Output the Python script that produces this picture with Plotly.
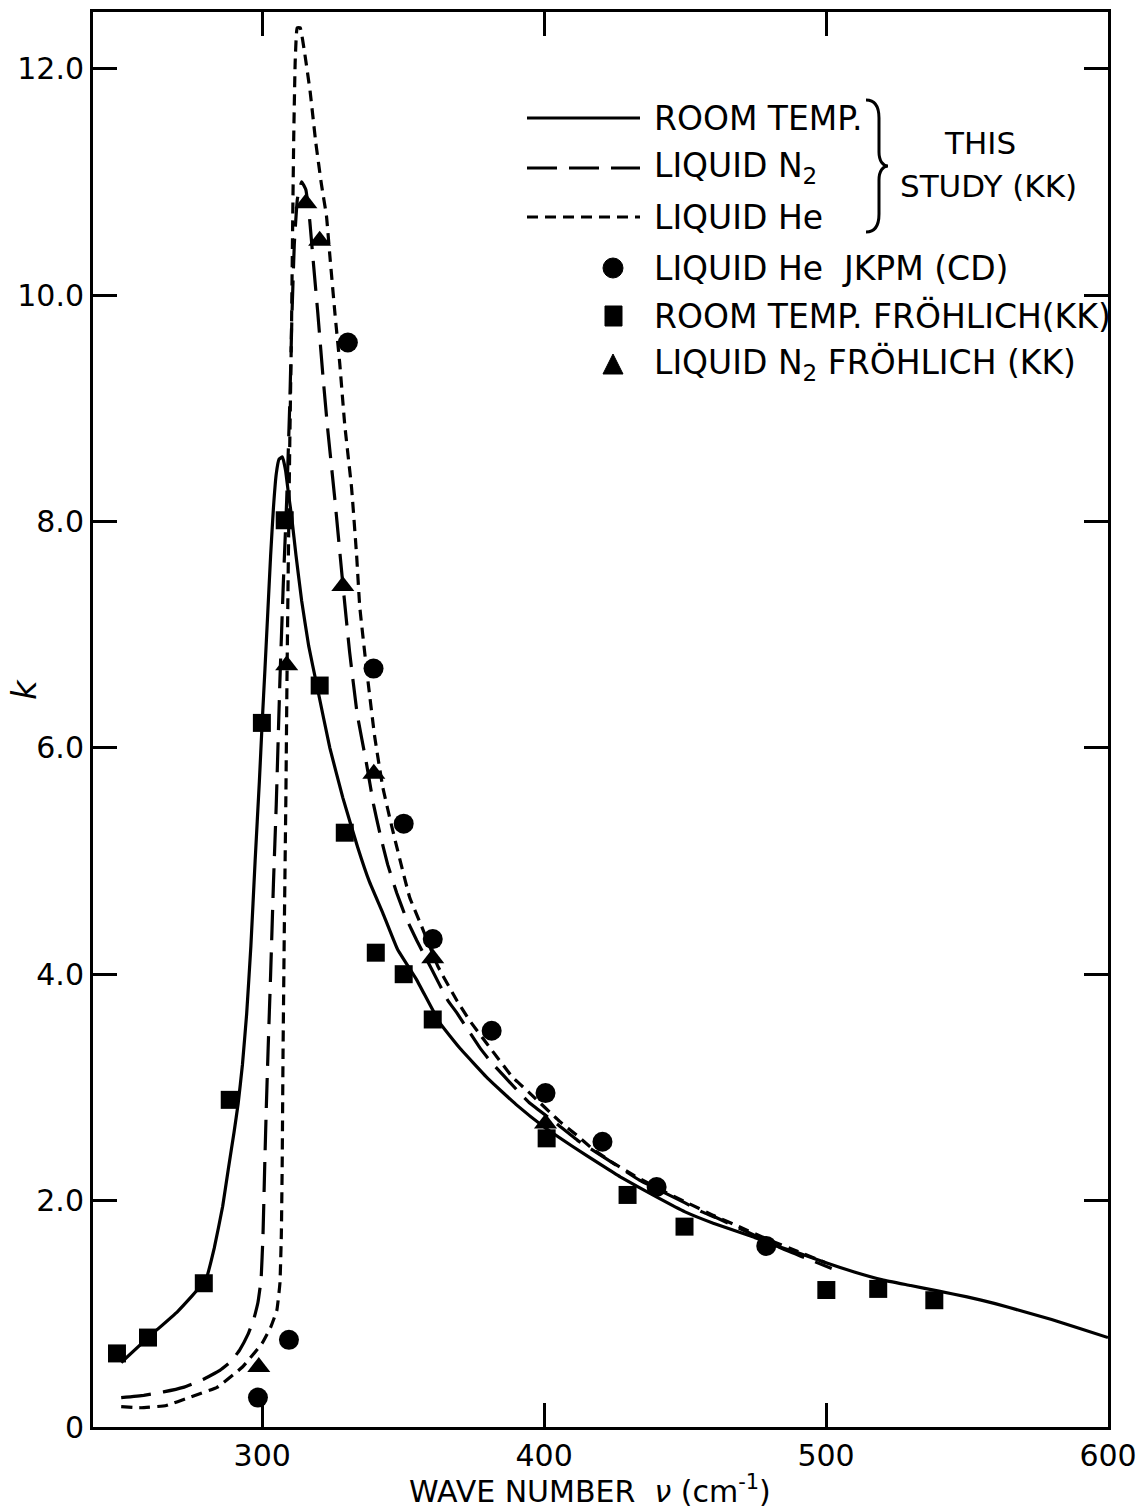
import plotly.graph_objects as go

# ---- curves: absorption index k versus wave number (cm^-1) ----
rt_nu = [250, 260, 270, 280, 283, 286, 288, 290, 291.5, 293, 294.5, 296, 297.5, 299, 300,
         301, 302, 303, 304, 305, 306, 307.2, 308.3, 309.3, 310.5, 312, 314, 316.5, 319.4,
         324, 328.6, 333.9, 338, 342.8, 348, 354.8, 363, 370, 380, 390, 400, 410, 420, 427,
         440, 450, 460, 474, 480, 490, 500, 510, 520, 530, 540, 550, 560, 570, 580, 590, 600]
rt_k = [0.57, 0.80, 1.02, 1.30, 1.58, 1.95, 2.28, 2.60, 2.86, 3.20, 3.65, 4.25, 5.00, 5.70,
        6.22, 6.70, 7.20, 7.70, 8.12, 8.42, 8.55, 8.57, 8.45, 8.25, 8.03, 7.70, 7.30, 6.90,
        6.55, 6.00, 5.56, 5.12, 4.82, 4.54, 4.22, 3.95, 3.57, 3.35, 3.08, 2.85, 2.65, 2.48,
        2.32, 2.21, 2.03, 1.90, 1.80, 1.68, 1.62, 1.54, 1.45, 1.37, 1.30, 1.25, 1.20, 1.15,
        1.09, 1.02, 0.95, 0.87, 0.79]

n2_nu = [250, 258, 265, 272, 279, 285, 289, 292, 295, 297, 298.5, 299.6, 300.3, 300.9,
         301.5, 302.1, 303, 304, 305, 306.3, 307.5, 308.7, 309.8, 310.6, 311.4, 312.5, 314,
         315.5, 316.9, 318, 319.7, 321.5, 323.3, 325.8, 328.6, 331, 333.7, 337, 339.5, 341.7,
         344.5, 347.7, 351, 354.8, 360, 365.8, 369, 377.5, 381, 391, 395, 404.4, 412, 421.4,
         433.8, 441, 450, 456, 461, 474, 484, 492, 502]
n2_k = [0.26, 0.28, 0.31, 0.35, 0.42, 0.50, 0.58, 0.68, 0.82, 0.95, 1.10, 1.30, 1.70, 2.30,
        2.85, 3.33, 4.00, 4.80, 5.50, 6.60, 7.45, 8.19, 9.05, 9.85, 10.45, 10.85, 11.00,
        10.93, 10.65, 10.33, 9.85, 9.30, 8.80, 8.19, 7.45, 6.85, 6.30, 5.86, 5.50, 5.25,
        4.97, 4.72, 4.50, 4.30, 4.05, 3.77, 3.66, 3.34, 3.23, 2.96, 2.86, 2.68, 2.53, 2.38,
        2.18, 2.09, 1.98, 1.90, 1.85, 1.70, 1.58, 1.50, 1.40]

he_nu = [250, 257, 266, 274, 284, 293, 300, 303, 305.2, 306.3, 306.8, 307.1, 307.4, 307.9,
         308.4, 308.8, 309.2, 309.8, 310.4, 310.8, 311.2, 311.7, 312.4, 313.5, 315, 317, 319,
         321, 322.8, 324, 325.8, 327.5, 329.3, 331.7, 333.5, 334.6, 337, 339.9, 342.8, 346.3,
         352.3, 356.6, 362.3, 369, 373.6, 379.6, 388.8, 394.9, 405.5, 411.5, 417, 424, 432,
         441, 450, 460, 470, 480, 490, 500]
he_k = [0.18, 0.17, 0.19, 0.26, 0.35, 0.53, 0.74, 0.88, 1.03, 1.27, 1.70, 2.30, 3.30, 4.50,
        5.54, 6.60, 7.50, 8.70, 9.70, 10.60, 11.40, 12.05, 12.36, 12.36, 12.15, 11.80, 11.35,
        10.98, 10.70, 10.35, 9.84, 9.40, 8.85, 8.30, 7.70, 7.25, 6.70, 6.10, 5.65, 5.27,
        4.68, 4.42, 4.07, 3.77, 3.59, 3.39, 3.09, 2.95, 2.70, 2.58, 2.46, 2.34, 2.22,
        2.10, 1.99, 1.87, 1.76, 1.65, 1.55, 1.45]

# ---- measured points ----
jkpm_nu = [298.5, 309.5, 330.4, 339.5, 350.2, 360.5, 381.4, 400.5, 420.7, 439.9, 478.8]
jkpm_k = [0.26, 0.77, 9.58, 6.70, 5.33, 4.31, 3.50, 2.95, 2.52, 2.12, 1.60]

froh_rt_nu = [248.5, 259.5, 279.3, 288.5, 299.9, 308.0, 320.4, 329.3, 340.3, 350.2, 360.5,
              400.9, 429.6, 449.8, 500.1, 518.5, 538.4]
froh_rt_k = [0.65, 0.79, 1.27, 2.89, 6.22, 8.01, 6.55, 5.25, 4.19, 4.00, 3.60,
             2.55, 2.05, 1.77, 1.21, 1.22, 1.12]

froh_n2_nu = [298.8, 308.7, 315.5, 320.4, 328.6, 339.6, 360.5, 400.5]
froh_n2_k = [0.53, 6.73, 10.81, 10.48, 7.43, 5.77, 4.14, 2.68]

x_ticks = [300, 400, 500, 600]
x_ticktext = ["300", "400", "500", "600"]
y_ticks = [0, 2, 4, 6, 8, 10, 12]
y_ticktext = ["0", "2.0", "4.0", "6.0", "8.0", "10.0", "12.0"]

FONT = "DejaVu Sans, Liberation Sans, Arial, sans-serif"
INK = "black"
LONG_DASH = "30px,12px"
SHORT_DASH = "11px,7px"
LW = 3.2
LEG_SIZE = 33

fig = go.Figure()
fig.add_trace(go.Scatter(x=rt_nu, y=rt_k, mode="lines",
                         line=dict(color=INK, width=LW, shape="spline", smoothing=0.3)))
fig.add_trace(go.Scatter(x=n2_nu, y=n2_k, mode="lines",
                         line=dict(color=INK, width=LW, dash=LONG_DASH, shape="spline", smoothing=0.3)))
fig.add_trace(go.Scatter(x=he_nu, y=he_k, mode="lines",
                         line=dict(color=INK, width=LW, dash=SHORT_DASH, shape="spline", smoothing=0.3)))
fig.add_trace(go.Scatter(x=jkpm_nu, y=jkpm_k, mode="markers",
                         marker=dict(symbol="circle", size=20, color=INK)))
fig.add_trace(go.Scatter(x=froh_rt_nu, y=froh_rt_k, mode="markers",
                         marker=dict(symbol="square", size=18, color=INK)))
fig.add_trace(go.Scatter(x=froh_n2_nu, y=froh_n2_k, mode="markers",
                         marker=dict(symbol="triangle-up", size=20, color=INK)))

# plot frame in pixels
L, R, T, B = 93, 1108, 12, 1427
W, H = 1144, 1511


def px(x):
    return (x - L) / (R - L)


def py(y):
    return (B - y) / (B - T)


shapes = []
annotations = []

# legend key lines
for row_y, dash in [(118, "solid"), (168, LONG_DASH), (217, SHORT_DASH)]:
    shapes.append(dict(type="line", xref="paper", yref="paper",
                       x0=px(527), x1=px(640), y0=py(row_y), y1=py(row_y),
                       line=dict(color=INK, width=LW, dash=dash)))

# legend key markers
shapes.append(dict(type="circle", xref="paper", yref="paper",
                   x0=px(603), x1=px(623), y0=py(278), y1=py(258),
                   fillcolor=INK, line=dict(color=INK, width=1)))
shapes.append(dict(type="rect", xref="paper", yref="paper",
                   x0=px(605), x1=px(622), y0=py(326), y1=py(306),
                   fillcolor=INK, line=dict(color=INK, width=1)))
tri = "M {:.5f} {:.5f} L {:.5f} {:.5f} L {:.5f} {:.5f} Z".format(
    px(603), py(374), px(623), py(374), px(613), py(354))
shapes.append(dict(type="path", xref="paper", yref="paper", path=tri,
                   fillcolor=INK, line=dict(color=INK, width=1)))

# brace grouping the three curves
bx, by0, by1, tipx = 866, 100, 232, 888
mid = (by0 + by1) / 2
pts = [
    ("M", [(bx, by0)]),
    ("C", [(bx + 9, by0), (bx + 13, by0 + 6), (bx + 13, by0 + 18)]),
    ("L", [(bx + 13, mid - 14)]),
    ("C", [(bx + 13, mid - 5), (bx + 17, mid), (tipx, mid)]),
    ("C", [(bx + 17, mid), (bx + 13, mid + 5), (bx + 13, mid + 14)]),
    ("L", [(bx + 13, by1 - 18)]),
    ("C", [(bx + 13, by1 - 6), (bx + 9, by1), (bx, by1)]),
]
path = " ".join(cmd + " " + " ".join("{:.5f},{:.5f}".format(px(a), py(b)) for a, b in p)
                for cmd, p in pts)
shapes.append(dict(type="path", xref="paper", yref="paper", path=path,
                   line=dict(color=INK, width=3)))

legend_text = [
    (118, "ROOM TEMP."),
    (168, "LIQUID N<sub>2</sub>"),
    (217, "LIQUID He"),
    (268, "LIQUID He\u00a0 JKPM (CD)"),
    (316, "ROOM TEMP. FRÖHLICH(KK)"),
    (364, "LIQUID N<sub>2</sub> FRÖHLICH (KK)"),
]
for row_y, txt in legend_text:
    annotations.append(dict(xref="paper", yref="paper", x=px(652), y=py(row_y),
                            xanchor="left", yanchor="middle", text=txt, showarrow=False,
                            font=dict(family=FONT, size=LEG_SIZE, color=INK)))
annotations.append(dict(xref="paper", yref="paper", x=px(980), y=py(143), xanchor="center",
                        yanchor="middle", text="THIS", showarrow=False,
                        font=dict(family=FONT, size=31, color=INK)))
annotations.append(dict(xref="paper", yref="paper", x=px(988), y=py(186), xanchor="center",
                        yanchor="middle", text="STUDY (KK)", showarrow=False,
                        font=dict(family=FONT, size=31, color=INK)))

# axis titles
annotations.append(dict(xref="paper", yref="paper", x=px(590), y=py(1489),
                        xanchor="center", yanchor="middle",
                        text="WAVE NUMBER\u00a0 <i>\u03bd</i> (cm<sup>-1</sup>)", showarrow=False,
                        font=dict(family=FONT, size=30, color=INK)))
annotations.append(dict(xref="paper", yref="paper", x=px(24), y=py(690),
                        xanchor="center", yanchor="middle", textangle=-90,
                        text="<i>k</i>", showarrow=False,
                        font=dict(family=FONT, size=34, color=INK)))

fig.update_layout(
    width=W, height=H,
    margin=dict(l=L, r=W - R, t=T, b=H - B),
    paper_bgcolor="white", plot_bgcolor="white",
    showlegend=False,
    shapes=shapes, annotations=annotations,
    font=dict(family=FONT, color=INK),
)
fig.update_xaxes(
    range=[240, 600], tickvals=x_ticks, ticktext=x_ticktext, automargin=False,
    ticks="inside", ticklen=24, tickwidth=3, tickcolor=INK,
    showline=True, linewidth=3, linecolor=INK, mirror="ticks",
    showgrid=False, zeroline=False,
    tickfont=dict(family=FONT, size=30, color=INK),
)
fig.update_yaxes(
    range=[0, 12.5], tickvals=y_ticks, ticktext=y_ticktext, automargin=False,
    ticks="inside", ticklen=24, tickwidth=3, tickcolor=INK,
    showline=True, linewidth=3, linecolor=INK, mirror="ticks",
    showgrid=False, zeroline=False,
    tickfont=dict(family=FONT, size=30, color=INK),
)

fig.write_html("out.html")
